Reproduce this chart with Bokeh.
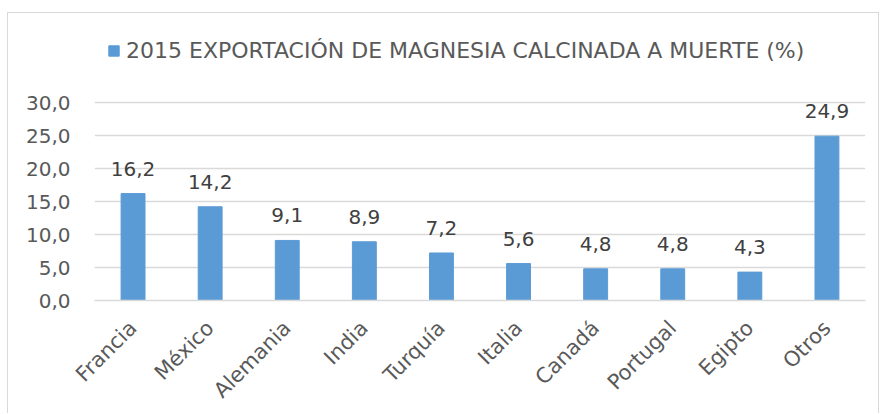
import math
from bokeh.plotting import figure
from bokeh.models import ColumnDataSource, FixedTicker, Legend, LegendItem, LabelSet, Range1d
from bokeh.core.properties import value
from bokeh.embed import file_html
from bokeh.resources import INLINE

categories = ["Francia", "México", "Alemania", "India", "Turquía", "Italia",
              "Canadá", "Portugal", "Egipto", "Otros"]
values = [16.2, 14.2, 9.1, 8.9, 7.2, 5.6, 4.8, 4.8, 4.3, 24.9]
series_name = "2015 EXPORTACIÓN DE MAGNESIA CALCINADA A MUERTE (%)"
y_ticks = [0, 5, 10, 15, 20, 25, 30]

FONT = "DejaVu Sans"
BAR = "#5B9BD5"

src = ColumnDataSource(dict(
    cat=categories,
    val=values,
    lab=[f"{v:.1f}".replace(".", ",") for v in values],
))

# frame: 267 px tall, gridline 30 sits 198 px above the baseline
p = figure(x_range=categories, y_range=Range1d(0, 30 * 267 / 198), width=872, height=401,
           output_backend="svg", toolbar_location=None,
           min_border_left=86, min_border_right=15, min_border_top=20,
           min_border_bottom=114)
p.styles = {"border": "1px solid #d9d9d9", "border-bottom": "none",
            "margin-top": "12px", "margin-left": "7px"}
p.outline_line_color = None
p.background_fill_color = "white"
p.border_fill_color = "white"

r = p.vbar(x="cat", top="val", width=0.31, source=src, color=BAR, line_color=BAR)

p.add_layout(LabelSet(x="cat", y="val", text="lab", source=src,
                      text_align="center", text_baseline="alphabetic", y_offset=18,
                      text_font=value(FONT), text_font_size=value("20px"),
                      text_color="#404040"))

p.ygrid.ticker = FixedTicker(ticks=y_ticks)
p.ygrid.grid_line_color = "#d9d9d9"
p.ygrid.grid_line_width = 1.5
p.xgrid.grid_line_color = None

p.yaxis.ticker = FixedTicker(ticks=y_ticks)
p.yaxis.major_label_overrides = {t: f"{t:.1f}".replace(".", ",") for t in y_ticks}
p.yaxis.axis_line_color = None
p.yaxis.major_tick_line_color = None
p.yaxis.minor_tick_line_color = None
p.yaxis.major_label_standoff = 18
p.yaxis.major_label_text_font = FONT
p.yaxis.major_label_text_font_size = "20px"
p.yaxis.major_label_text_color = "#595959"

p.xaxis.axis_line_color = "#d9d9d9"
p.xaxis.axis_line_width = 1.5
p.xaxis.major_tick_line_color = None
p.xaxis.minor_tick_line_color = None
p.xaxis.major_label_orientation = math.pi / 4
p.xaxis.major_label_standoff = 18
p.xaxis.major_label_text_font = FONT
p.xaxis.major_label_text_font_size = "21px"
p.xaxis.major_label_text_color = "#595959"

legend = Legend(items=[LegendItem(label=series_name, renderers=[r])],
                location=(13, 237), orientation="horizontal",
                glyph_width=13, glyph_height=13, padding=0, margin=0,
                label_standoff=6, spacing=0,
                label_text_font=FONT, label_text_font_size="22px",
                label_text_color="#595959",
                border_line_color=None, background_fill_alpha=0)
p.add_layout(legend, "center")

open("out.html", "w").write(file_html(p, INLINE))
